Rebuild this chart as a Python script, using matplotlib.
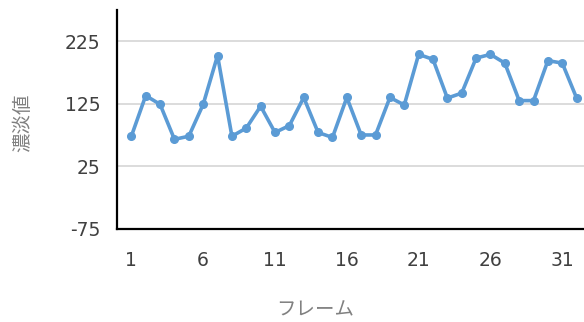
import matplotlib
matplotlib.use("Agg")
import matplotlib.pyplot as plt

plt.rcParams['font.family'] = ['DejaVu Sans', 'Noto Sans CJK JP']
plt.rcParams['axes.unicode_minus'] = False

# data
frames = list(range(1, 33))
values = [73, 138, 124, 68, 73, 124, 202, 73, 86, 121, 79, 90,
          135, 79, 71, 135, 75, 75, 135, 123, 204, 196, 134, 142,
          198, 204, 190, 130, 130, 194, 190, 134]
yticks = [-75, 25, 125, 225]
xticks = [1, 6, 11, 16, 21, 26, 31]

fig = plt.figure(figsize=(5.84, 3.22), dpi=100)
ax = fig.add_axes([117 / 584, 1 - 228.7 / 322, 474 / 584, 218.7 / 322])

ax.plot(frames, values, color='#5B9BD5', lw=2.6, marker='o', ms=5.5,
        solid_joinstyle='round', zorder=3)

ax.set_xlim(0, 33)
ax.set_ylim(-75, 275)
ax.set_yticks(yticks)
ax.set_xticks(xticks)
for y in yticks[1:]:
    ax.axhline(y, color='#d9d9d9', lw=1.3, zorder=1)

for s in ['top', 'right']:
    ax.spines[s].set_visible(False)
for s in ['left', 'bottom']:
    ax.spines[s].set_color('black')
    ax.spines[s].set_linewidth(1.6)

ax.tick_params(axis='both', length=0, labelsize=13.5, labelcolor='#404040')
ax.tick_params(axis='y', pad=12)
ax.tick_params(axis='x', pad=16)

fig.text(23 / 584, 1 - 123 / 322, '濃淡値', rotation=90, ha='center', va='center',
         fontsize=14, color='#808080', family=['Noto Sans CJK JP'])
fig.text(315 / 584, 1 - 310 / 322, 'フレーム', ha='center', va='center',
         fontsize=14, color='#808080', family=['Noto Sans CJK JP'])

fig.savefig('out.png', dpi=100)
